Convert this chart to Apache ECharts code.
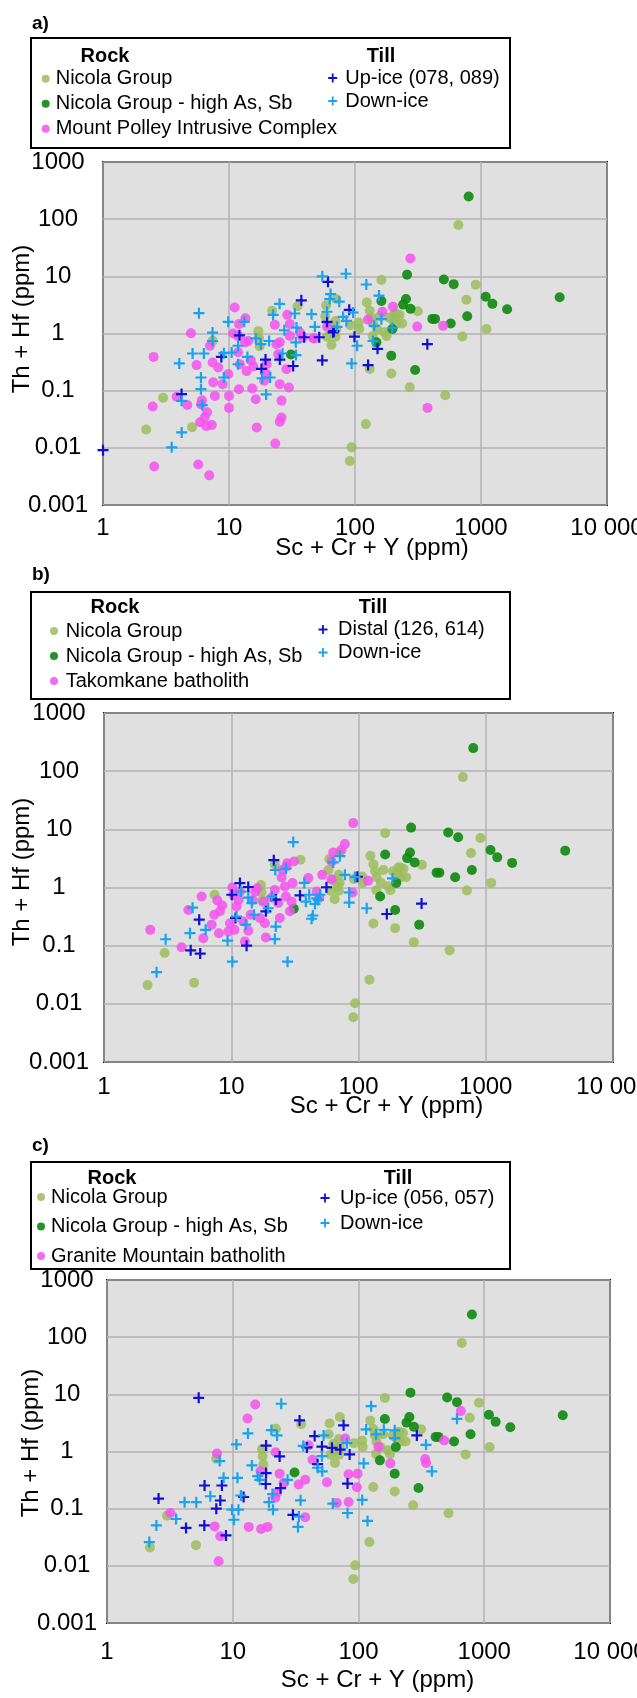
<!DOCTYPE html>
<html>
<head>
<meta charset="utf-8">
<script src="https://cdn.jsdelivr.net/npm/echarts@6/dist/echarts.min.js"></script>
<style>
html,body{margin:0;padding:0;background:#fff;}
#chart{width:637px;height:1698px;}
</style>
</head>
<body>
<div id="chart"></div>
<script>
// ---------- tick labels ----------
const xTickValues = [1, 10, 100, 1000, 10000];
const xTickLabels = ['1', '10', '100', '1000', '10 000'];
const yTickValues = [0.001, 0.01, 0.1, 1, 10, 100, 1000];
const yTickLabels = ['0.001', '0.01', '0.1', '1', '10', '100', '1000'];

// ---------- rock data (shared by all panels) ----------
const nicolaGroup = [
  [2.2,0.021],[3.0,0.075],[5.1,0.023],[7.4,0.75],[17.1,1.1],[17.3,0.83],[17.5,0.6],[22,2.5],[35,3.0],
  [59,3.1],[58,2.0],[71,4.0],[63,1.35],[60,0.88],[65,0.63],[70,0.88],[70,1.65],[71,1.2],[68,1.05],
  [92,1.4],[107,1.55],[108,1.2],[124,3.5],[131,2.5],[135,1.9],[139,1.5],[138,0.9],[150,1.2],[157,2.0],
  [162,8.6],[171,1.05],[178,0.9],[187,1.9],[200,1.7],[205,2.2],[213,2.2],[215,1.5],[226,2.1],[237,1.5],[315,2.45],
  [131,0.24],[194,0.2],[272,0.115],[520,0.083],[122,0.026],[94,0.0102],[91,0.0059],
  [662,79],[908,7.1],[766,3.9],[1104,1.2],[711,0.89]
];
const nicolaHighAsSb = [
  [31,0.43],[148,0.7],[162,3.7],[194,0.41],[198,1.2],[241,3.2],[254,4.0],[259,10.7],[276,2.7],[300,0.23],
  [411,1.8],[432,1.8],[507,8.8],[575,1.5],[607,7.3],[778,2.0],[798,249],[1090,4.4],[1232,3.3],[1612,2.65],[4210,4.3]
];

// ---------- panel a ----------
const mountPolley = [
  [2.52,0.39],[2.48,0.053],[2.55,0.0047],[3.84,0.078],[4.67,0.056],[4.99,1.01],[5.53,0.28],[6.1,0.068],[6.0,0.058],
  [5.7,0.0051],[6.97,0.0033],[5.9,0.028],[6.4,0.034],[6.6,0.024],[7.3,0.025],[6.7,0.042],[7.06,0.61],[7.41,0.31],
  [7.5,0.14],[7.73,0.081],[8.22,0.255],[8.89,0.13],[9.86,0.195],[10,0.081],[10,0.05],[11.1,2.85],[10.8,1.0],
  [11.8,0.91],[12,1.46],[13.5,1.85],[13.4,0.7],[14.2,0.74],[11.8,0.47],[12.2,0.29],[12,0.106],[13.8,0.22],
  [14.9,0.34],[15.6,0.265],[15.3,0.109],[16.3,0.071],[16.6,0.0227],[19,0.149],[19.9,0.195],[19.9,0.29],
  [23.1,1.42],[23.8,0.65],[24.6,0.435],[25.3,0.7],[25.3,0.13],[26.1,0.067],[26.1,0.034],[25.3,0.0286],[23.3,0.0119],
  [29,2.12],[30.4,1.46],[30.4,0.91],[28.6,0.238],[29.9,0.114],[36.5,1.04],[47.4,0.82],[38.3,0.85],[46.6,0.83],
  [60,1.31],[127,1.75],[165,2.4],[200,2.95],[312,1.32],[275,20.6],[376,0.05],[500,1.36]
];
const upIceA = [
  [1.0,0.0091],[4.2,0.087],[8.7,0.39],[12.1,0.93],[18.1,0.24],[19.5,0.35],[25.3,0.35],[32.3,0.27],[37.5,3.8],
  [39.5,0.86],[52,0.86],[55,0.34],[60,1.6],[61,8.0],[67,1.05],[68,1.1],[90,2.6],[99,0.88],[127,0.28],[151,0.54],[375,0.65]
];
const downIceA = [
  [5.77,2.27],[7.41,1.04],[7.41,0.74],[5.14,0.447],[6.32,0.447],[4.03,0.3],[4.21,0.0665],[4.21,0.0186],[3.51,0.0102],
  [5.99,0.17],[5.99,0.106],[6.13,0.056],[9.86,1.6],[9.11,0.453],[10.5,0.465],[9.11,0.17],[11.8,0.61],[11.8,0.29],
  [13.2,1.6],[14,0.39],[16.3,0.82],[17.9,0.65],[18.3,0.165],[21.2,0.17],[20.8,0.74],[19.7,0.086],[22.4,2.12],
  [25.2,3.3],[26.6,0.447],[27.5,1.14],[33.3,2.24],[34.3,1.27],[33.9,0.7],[34,0.42],[45.2,2.18],[48,1.31],[55,10],
  [84.7,11.1],[123,7.2],[155,4.6],[64,4.9],[63,4.0],[75,3.6],[60,2.4],[96.6,2.33],[80.5,1.96],[85.5,1.66],[72,1.31],
  [162,1.78],[142,1.36],[198,1.26],[139,0.74],[104,0.61],[94,0.3]
];

// ---------- panel b ----------
const takomkane = [
  [2.31,0.187],[4.07,0.094],[4.6,0.41],[5.85,0.7],[6.03,0.134],[7.01,0.23],[7.36,0.34],[7.77,0.6],[8.15,0.39],
  [8.0,0.164],[8.5,0.49],[9.77,0.243],[9.48,0.175],[10.2,1.0],[10.4,0.75],[10.6,0.187],[11,0.47],[11.4,0.61],
  [11.7,0.85],[12.4,0.26],[12.8,0.118],[13.6,0.18],[14.2,0.34],[14.7,0.61],[15.4,0.85],[16,0.97],[16.8,0.3],
  [17.9,0.57],[18.4,0.243],[18.7,0.138],[20.8,0.67],[22,0.91],[23.4,0.54],[24.1,0.3],[24.9,1.49],[25.3,2.01],
  [26.4,1.04],[26.9,0.7],[27.2,2.3],[27.5,2.62],[28.9,0.39],[29.8,0.57],[30.3,1.19],[31.1,2.8],[40.3,1.45],
  [49.2,0.67],[46.9,0.85],[51.9,1.65],[61.4,1.39],[61.4,2.8],[63.3,4.0],[73.6,4.45],[78.2,5.6],[90.9,12.8],[89.8,0.82],[119,1.3]
];
const distalB = [
  [4.8,0.083],[5.7,0.073],[5.6,0.28],[10.1,0.75],[11.7,1.19],[13.6,1.02],[10.8,0.3],[13.2,0.1],[18.7,0.39],
  [21.6,2.95],[22.4,0.62],[34.7,0.73],[56,1.01],[98,1.53],[313,0.53],[167,0.35]
];
const downIceB = [
  [2.59,0.035],[3.05,0.129],[4.74,0.164],[4.97,0.45],[6.29,0.187],[9.36,0.122],[10.2,0.053],[11,0.317],[11.9,0.85],
  [13,0.23],[13.6,0.67],[14.5,0.54],[15.1,0.34],[19.5,0.44],[20.8,0.7],[22.4,0.213],[22,0.13],[22.2,2.0],[26.9,2.1],
  [30.7,6.03],[27.7,0.053],[37.5,1.2],[38.6,0.57],[41,0.75],[43.8,0.33],[42.8,0.29],[45.5,0.52],[46.9,0.65],
  [48.3,0.61],[49.8,0.75],[63.3,2.7],[71.4,3.45],[78.2,1.65],[93.8,1.51],[84.5,0.82],[84.5,0.55],[116,0.44],[185,1.43]
];

// ---------- panel c ----------
const graniteMountain = [
  [3.19,0.084],[7.49,0.92],[7.18,0.049],[7.96,0.033],[7.72,0.012],[13.4,0.048],[13.1,3.78],[15.1,6.65],[16.8,0.044],
  [18.9,0.048],[16.6,0.45],[21.9,0.97],[23.6,0.41],[22.4,0.19],[21.8,0.155],[25.4,0.28],[33.4,0.264],[37.7,0.32],
  [37.7,0.071],[40.1,1.29],[43.1,0.72],[56.1,0.29],[78.5,1.69],[83.4,0.4],[98.4,0.41],[97.1,0.237],[67.3,0.126],
  [83.4,0.131],[144,1.21],[179,0.62],[339,0.74],[345,0.63],[480,1.56],[652,5.09]
];
const upIceC = [
  [5.36,8.7],[2.57,0.15],[4.25,0.046],[5.94,0.051],[5.97,0.254],[8.2,0.254],[7.4,0.1],[7.96,0.139],[8.83,0.034],
  [12.2,0.16],[18.4,1.27],[18.4,0.42],[18.3,0.27],[23.6,0.82],[24,0.228],[30.1,0.078],[34,3.5],[38.9,1.18],
  [44.8,1.86],[47.3,0.6],[51.2,1.22],[61.5,1.16],[71.6,1.08],[76.1,2.87],[85,0.89],[81.8,0.275],[291,1.91]
];
const downIceC = [
  [2.17,0.026],[2.47,0.051],[3.54,0.066],[4.14,0.13],[5.13,0.13],[6.63,0.165],[7.87,0.68],[8.46,0.346],[9.86,0.096],
  [10.2,0.064],[10.7,1.33],[10.9,0.346],[11.1,0.096],[11.6,0.17],[13.2,2.07],[14.2,0.57],[15.8,0.37],[16.4,0.32],
  [19.4,0.13],[20.9,0.096],[20.7,0.18],[20.3,2.37],[22.5,1.91],[24.3,6.84],[27.3,0.32],[34.6,0.14],[33.6,0.073],
  [33,0.048],[36.4,1.25],[47.3,0.52],[51.5,0.45],[52.8,1.91],[51.2,0.83],[62.5,0.123],[80.8,1.4],[126,6.2],[115,2.43],
  [138,2.0],[159,2.4],[194,2.35],[194,1.72],[344,1.31],[383,0.45],[110,0.62],[107,0.142],[81.8,0.084],[118,0.061],[607,3.73]
];

// ---------- styling / layout ----------
const FONT = '"Liberation Sans", Arial, sans-serif';
const C_NICOLA = '#9cbd5e', C_HIGHAS = '#148a14', C_PINK = '#f552ee', C_UP = '#0f0fd8', C_DOWN = '#1aa2f0';
const PLUS = 'path://M4,0h2v4h4v2h-4v4h-2v-4h-4v-2h4z';

function tickFormatter(values, labels) {
  return function (v) {
    for (let i = 0; i < values.length; i++) {
      if (Math.abs(Math.log10(v) - Math.log10(values[i])) < 1e-6) return labels[i];
    }
    return '';
  };
}

const panels = [
  { label: 'a)', labelY: 24, box: [31, 38, 479, 110], rockX: 105, headY: 56, tillX: 381,
    grid: { left: 103, top: 162, width: 504, height: 343 },
    xLabelMargin: 11, xNameGap: 31, xNamePad: 34, yLabelMargin: 45, yNameGap: 69, yNamePad: 29,
    rockLegend: { left: 41.7, top: 68.7, gap: 5, pad: 0 }, tillLegend: { left: 328.2, top: 68, gap: 3, pad: 3 },
    rocks: ['Nicola Group', 'Nicola Group - high As, Sb', 'Mount Polley Intrusive Complex'],
    tills: ['Up-ice (078, 089)', 'Down-ice'],
    data: [nicolaGroup, nicolaHighAsSb, mountPolley, upIceA, downIceA] },
  { label: 'b)', labelY: 575, box: [31, 592, 479, 107], rockX: 115, headY: 607, tillX: 373,
    grid: { left: 104, top: 713, width: 509, height: 349 },
    xLabelMargin: 13, xNameGap: 32, xNamePad: 56, yLabelMargin: 45, yNameGap: 70, yNamePad: 31,
    rockLegend: { left: 50, top: 621, gap: 5, pad: 1.7 }, tillLegend: { left: 318.5, top: 619.5, gap: 3, pad: 5.5 },
    rocks: ['Nicola Group', 'Nicola Group - high As, Sb', 'Takomkane batholith'],
    tills: ['Distal (126, 614)', 'Down-ice'],
    data: [nicolaGroup, nicolaHighAsSb, takomkane, distalB, downIceB] },
  { label: 'c)', labelY: 1146, box: [31, 1162, 479, 107], rockX: 112, headY: 1178, tillX: 398,
    grid: { left: 107, top: 1280, width: 503, height: 343 },
    xLabelMargin: 17, xNameGap: 45, xNamePad: 38, yLabelMargin: 40, yNameGap: 64, yNamePad: 17,
    rockLegend: { left: 37, top: 1187, gap: 9.5, pad: 0 }, tillLegend: { left: 320.5, top: 1188, gap: 5, pad: 5.5 },
    rocks: ['Nicola Group', 'Nicola Group - high As, Sb', 'Granite Mountain batholith'],
    tills: ['Up-ice (056, 057)', 'Down-ice'],
    data: [nicolaGroup, nicolaHighAsSb, graniteMountain, upIceC, downIceC] }
];

const grids = [], xAxes = [], yAxes = [], series = [], legends = [], graphics = [];
const seriesColors = [C_NICOLA, C_HIGHAS, C_PINK, C_UP, C_DOWN];

panels.forEach((p, i) => {
  grids.push(Object.assign({ show: true, backgroundColor: '#e0e0e0', borderColor: '#000', borderWidth: 2,
    containLabel: false, outerBoundsMode: 'none' }, p.grid));
  xAxes.push({
    type: 'log', logBase: 10, min: 1, max: 10000, gridIndex: i,
    name: 'Sc + Cr + Y (ppm)', nameLocation: 'middle', nameGap: p.xNameGap, nameMoveOverlap: false,
    nameTextStyle: { fontSize: 24, fontFamily: FONT, color: '#000', padding: [0, 0, 0, p.xNamePad] },
    axisLine: { show: false }, axisTick: { show: false },
    axisLabel: { fontSize: 24, fontFamily: FONT, color: '#000', margin: p.xLabelMargin, showMinLabel: true, showMaxLabel: true,
      hideOverlap: false, formatter: tickFormatter(xTickValues, xTickLabels) },
    splitLine: { show: true, lineStyle: { color: '#b3b3b3', width: 1.5 } }
  });
  yAxes.push({
    type: 'log', logBase: 10, min: 0.001, max: 1000, gridIndex: i,
    name: 'Th + Hf (ppm)', nameLocation: 'middle', nameGap: p.yNameGap, nameMoveOverlap: false,
    nameTextStyle: { fontSize: 24, fontFamily: FONT, color: '#000', padding: [0, 0, 0, p.yNamePad] },
    axisLine: { show: false }, axisTick: { show: false },
    axisLabel: { fontSize: 24, fontFamily: FONT, color: '#000', margin: p.yLabelMargin, align: 'center', showMinLabel: true, showMaxLabel: true,
      formatter: tickFormatter(yTickValues, yTickLabels) },
    splitLine: { show: true, lineStyle: { color: '#b3b3b3', width: 1.5 } }
  });
  const names = p.rocks.concat(p.tills);
  names.forEach((name, k) => {
    const isPlus = k >= 3;
    series.push({
      type: 'scatter', name: name, xAxisIndex: i, yAxisIndex: i, clip: false,
      symbol: isPlus ? PLUS : 'circle', symbolSize: isPlus ? 11 : 10,
      itemStyle: { color: seriesColors[k], opacity: isPlus ? 1 : (k === 1 ? 0.92 : 0.85) },
      emphasis: { disabled: true },
      data: p.data[k]
    });
  });
  legends.push({
    orient: 'vertical', left: p.rockLegend.left, top: p.rockLegend.top, padding: 0, itemGap: p.rockLegend.gap,
    itemWidth: 10, itemHeight: 8, selectedMode: false,
    textStyle: { fontSize: 20, fontFamily: FONT, color: '#000', lineHeight: 20, padding: [0, 0, 0, p.rockLegend.pad] },
    data: p.rocks.map(n => ({ name: n, icon: 'circle' }))
  });
  legends.push({
    orient: 'vertical', left: p.tillLegend.left, top: p.tillLegend.top, padding: 0, itemGap: p.tillLegend.gap,
    itemWidth: 9, itemHeight: 9, selectedMode: false,
    textStyle: { fontSize: 20, fontFamily: FONT, color: '#000', lineHeight: 20, padding: [0, 0, 0, p.tillLegend.pad] },
    data: p.tills.map(n => ({ name: n, icon: PLUS }))
  });
  graphics.push({ type: 'rect', shape: { x: p.box[0], y: p.box[1], width: p.box[2], height: p.box[3] },
    style: { fill: 'none', stroke: '#000', lineWidth: 2 }, silent: true });
  graphics.push({ type: 'text', x: 32, y: p.labelY, silent: true,
    style: { text: p.label, fontSize: 19, fontWeight: 'bold', fontFamily: FONT, fill: '#000', align: 'left', verticalAlign: 'middle' } });
  graphics.push({ type: 'text', x: p.rockX, y: p.headY, silent: true,
    style: { text: 'Rock', fontSize: 20, fontWeight: 'bold', fontFamily: FONT, fill: '#000', align: 'center', verticalAlign: 'middle' } });
  graphics.push({ type: 'text', x: p.tillX, y: p.headY, silent: true,
    style: { text: 'Till', fontSize: 20, fontWeight: 'bold', fontFamily: FONT, fill: '#000', align: 'center', verticalAlign: 'middle' } });
});

const chart = echarts.init(document.getElementById('chart'), null, { renderer: 'canvas' });
chart.setOption({
  animation: false,
  backgroundColor: '#fff',
  grid: grids, xAxis: xAxes, yAxis: yAxes, series: series, legend: legends,
  graphic: graphics
});
</script>
</body>
</html>
